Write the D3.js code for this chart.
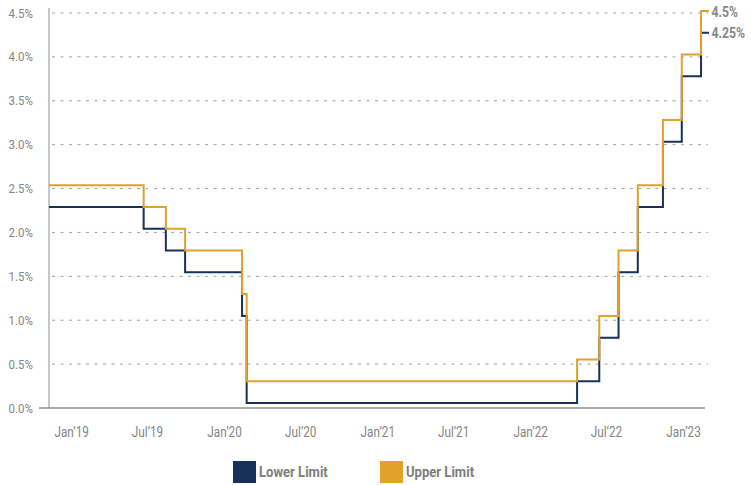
<!DOCTYPE html>
<html>
<head>
<meta charset="utf-8">
<script src="https://cdn.jsdelivr.net/npm/d3@7"></script>
<style>
  html, body { margin: 0; padding: 0; background: #fff; }
  svg { display: block; }
</style>
</head>
<body>
<svg id="chart" width="751" height="485"></svg>
<script>
// ---- Data ----
const stepDates = ["2018-11-09","2019-06-23","2019-08-15","2019-09-30","2020-02-13","2020-02-24",
                   "2022-04-23","2022-06-15","2022-07-31","2022-09-15","2022-11-14","2022-12-29",
                   "2023-02-13","2023-03-04"];
const lowerLimit = [2.25, 2.0, 1.75, 1.5, 1.0, 0, 0.25, 0.75, 1.5, 2.25, 3.0, 3.75, 4.25, 4.25];
const upperLimit = [2.5, 2.25, 2.0, 1.75, 1.25, 0.25, 0.5, 1.0, 1.75, 2.5, 3.25, 4.0, 4.5, 4.5];
const xTickDates = ["2019-01-01","2019-07-01","2020-01-01","2020-07-01","2021-01-01","2021-07-01","2022-01-01","2022-07-01","2023-01-01"];
const xTickLabels = ["Jan\u201919","Jul\u201919","Jan\u201920","Jul\u201920","Jan\u201921","Jul\u201921","Jan\u201922","Jul\u201922","Jan\u201923"];
const yTicks = [0, 0.5, 1.0, 1.5, 2.0, 2.5, 3.0, 3.5, 4.0, 4.5];
const seriesNames = ["Lower Limit", "Upper Limit"];
const endLabels = ["4.25%", "4.5%"];

const NAVY = "#16315a", GOLD = "#e1a12a";
const parse = d3.utcParse("%Y-%m-%d");
const svg = d3.select("#chart");
const FONT = "Roboto, 'Noto Sans', sans-serif";

// squeeze text horizontally to mimic a condensed face
function condense(sel, factor) {
  sel.each(function () {
    const w = this.getComputedTextLength();
    d3.select(this).attr("textLength", w * factor).attr("lengthAdjust", "spacingAndGlyphs");
  });
}

const x = d3.scaleUtc()
  .domain([parse(stepDates[0]), parse(stepDates[stepDates.length - 1])])
  .range([49, 709]);
const yGrid = d3.scaleLinear().domain([0, 4.5]).range([408, 13]);
const yData = d3.scaleLinear().domain([0, 4.5]).range([403, 11]);

// Gridlines
svg.append("g").selectAll("line")
  .data(yTicks.filter(d => d > 0))
  .join("line")
  .attr("x1", 52).attr("x2", 708)
  .attr("y1", d => yGrid(d)).attr("y2", d => yGrid(d))
  .attr("stroke", "#a0a0a0").attr("stroke-width", 1)
  .attr("stroke-dasharray", "3,5.5");

// Y axis (labels + vertical line)
const yAxisG = svg.append("g").attr("transform", "translate(49,0)")
  .call(d3.axisLeft(yGrid).tickValues(yTicks).tickSize(0).tickPadding(16)
        .tickFormat(d => d3.format(".1f")(d) + "%"));
yAxisG.select(".domain").remove();
yAxisG.selectAll("text")
  .attr("fill", "#858585").attr("font-family", FONT).attr("font-size", 12.5);
condense(yAxisG.selectAll("text"), 0.92);
svg.append("line")
  .attr("x1", 49).attr("x2", 49).attr("y1", 8).attr("y2", yGrid(0))
  .attr("stroke", "#b5b5b5").attr("stroke-width", 1.5);

// X axis
svg.append("line")
  .attr("x1", 39).attr("x2", 705).attr("y1", yGrid(0)).attr("y2", yGrid(0))
  .attr("stroke", "#8f8f8f").attr("stroke-width", 1.5);
const xAxisG = svg.append("g").attr("transform", `translate(0,${yGrid(0)})`)
  .call(d3.axisBottom(x).tickValues(xTickDates.map(parse)).tickSize(0).tickPadding(19)
        .tickFormat((d, i) => xTickLabels[i]));
xAxisG.select(".domain").remove();
xAxisG.selectAll("text")
  .attr("fill", "#858585").attr("font-family", FONT).attr("font-size", 14.5);
condense(xAxisG.selectAll("text"), 0.81);

// Lines
const rows = stepDates.map((d, i) => ({ date: parse(d), lo: lowerLimit[i], hi: upperLimit[i] }));
const lineLo = d3.line().curve(d3.curveStepAfter).x(d => x(d.date)).y(d => yData(d.lo));
const lineHi = d3.line().curve(d3.curveStepAfter).x(d => x(d.date)).y(d => yData(d.hi));
svg.append("path").datum(rows).attr("d", lineLo)
  .attr("fill", "none").attr("stroke", NAVY).attr("stroke-width", 2);
svg.append("path").datum(rows).attr("d", lineHi)
  .attr("fill", "none").attr("stroke", GOLD).attr("stroke-width", 2);

// End labels (horizontally squeezed via transform)
const last = rows[rows.length - 1];
const endG = svg.append("g");
[[endLabels[1], last.hi], [endLabels[0], last.lo]].forEach(([label, v]) => {
  endG.append("text")
    .attr("transform", `translate(${x(last.date) + 2.5},${yData(v)}) scale(0.79,1)`)
    .attr("dy", "0.36em").text(label)
    .attr("fill", "#888").attr("font-family", FONT)
    .attr("font-weight", "bold").attr("font-size", 15.5);
});

// Legend
const legend = svg.append("g");
const legendX = [233, 380];
const legendColors = [NAVY, GOLD];
seriesNames.forEach((name, i) => {
  legend.append("rect").attr("x", legendX[i]).attr("y", 461).attr("width", 23).attr("height", 22)
    .attr("fill", legendColors[i]);
  legend.append("text").attr("x", legendX[i] + 26).attr("y", 472).attr("dy", "0.36em")
    .text(name).attr("fill", "#7d7d7d").attr("font-family", FONT)
    .attr("font-weight", "bold").attr("font-size", 15);
});
condense(legend.selectAll("text"), 0.87);
</script>
</body>
</html>
